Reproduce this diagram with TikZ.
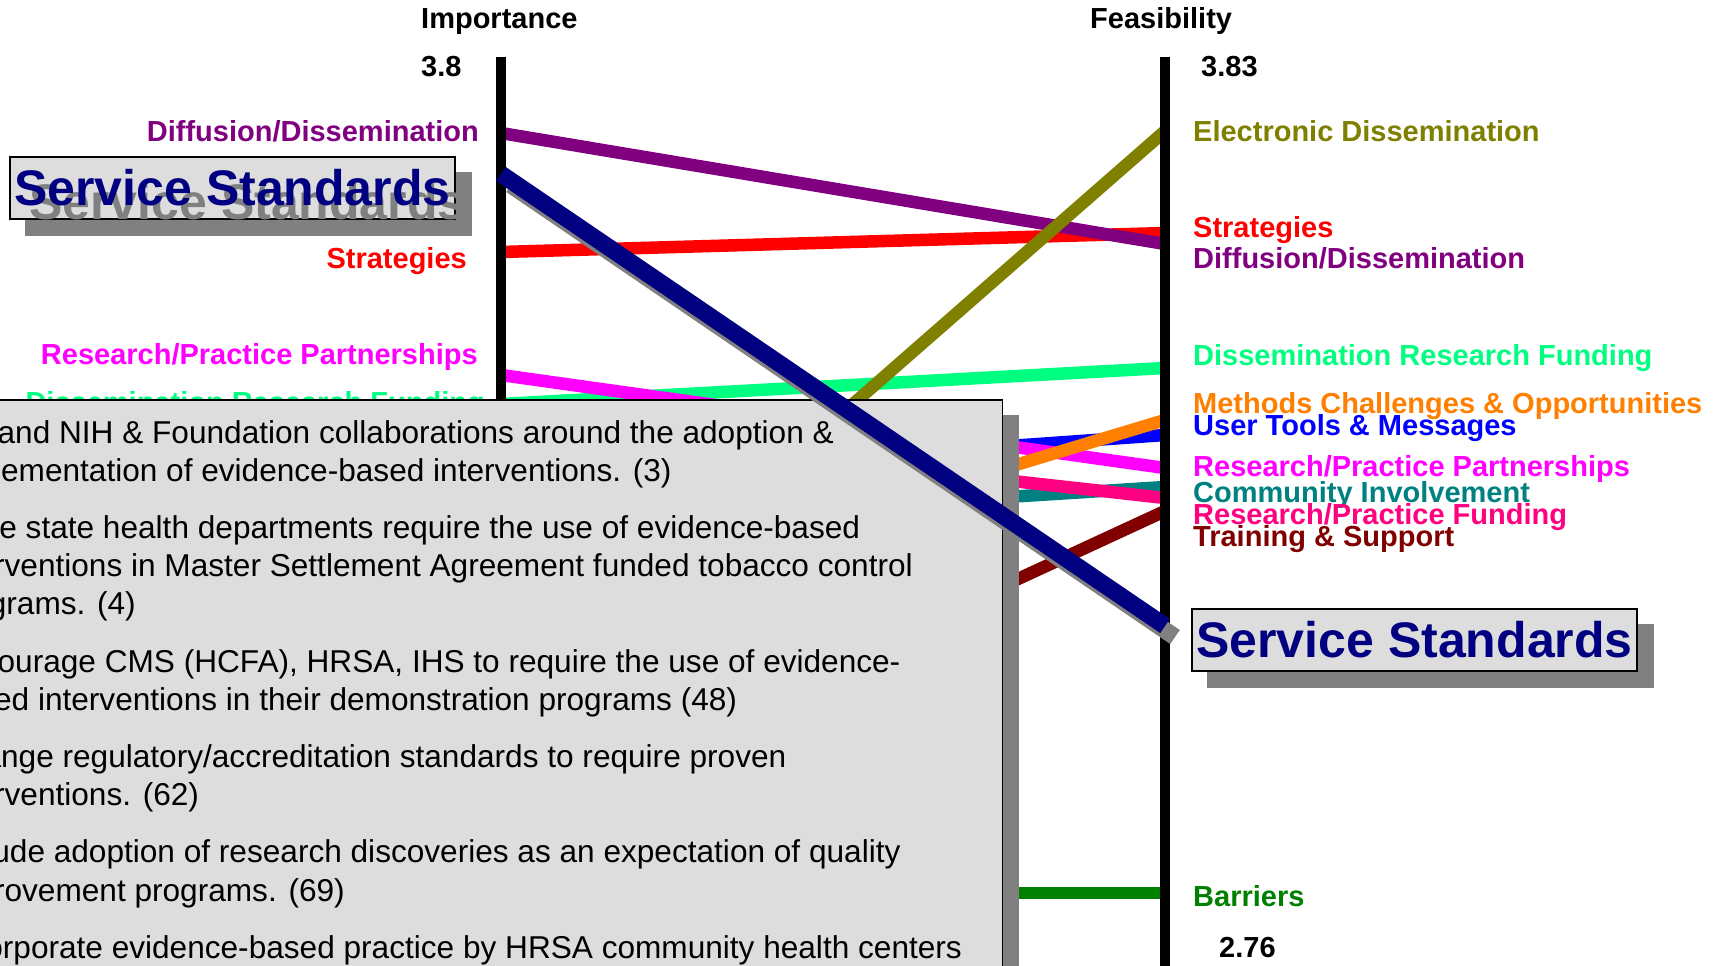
\documentclass[tikz,border=0pt]{standalone}
\usepackage{fontspec}
\setmainfont{Liberation Sans}
\usepackage{tikz}

\definecolor{diffpurple}{HTML}{800080}
\definecolor{stratred}{HTML}{FF0000}
\definecolor{rppmagenta}{HTML}{FF00FF}
\definecolor{drfgreen}{HTML}{00FF80}
\definecolor{elecolive}{HTML}{808000}
\definecolor{methorange}{HTML}{FF8000}
\definecolor{toolsblue}{HTML}{0000FF}
\definecolor{rpfpink}{HTML}{FF0080}
\definecolor{commteal}{HTML}{008080}
\definecolor{trainmaroon}{HTML}{800000}
\definecolor{barrgreen}{HTML}{008000}
\definecolor{servnavy}{HTML}{000080}
\definecolor{boxgray}{HTML}{DDDDDD}
\definecolor{shadowgray}{HTML}{808080}

\begin{document}
\begin{tikzpicture}[x=1pt, y=-1pt,
    lab/.style={font=\fontsize{29}{34}\selectfont\bfseries, inner sep=0pt},
    labl/.style={lab, anchor=base east},
    labr/.style={lab, anchor=base west},
    notetext/.style={font=\fontsize{31.6}{38}\selectfont, inner sep=0pt, anchor=base west},
    scaleline/.style={line width=10pt},
    trend/.style={line width=12.5pt},
    callout/.style={draw=black, line width=2pt, fill=boxgray, minimum width=445pt, minimum height=62pt, inner sep=0pt},
    calloutshadow/.style={fill=shadowgray, minimum width=447pt, minimum height=64pt, inner sep=0pt},
    callouttext/.style={font=\fontsize{50}{60}\selectfont\bfseries, text=servnavy, inner sep=0pt}]
    \useasboundingbox (0,0) rectangle (1713,966);
    \clip (0,0) rectangle (1713,966);

    \coordinate (imptop) at (501,57);
    \coordinate (impbot) at (501,980);
    \coordinate (featop) at (1165,57);
    \coordinate (feabot) at (1165,980);

    \coordinate (imp-diff) at (501,133);   \coordinate (fea-diff) at (1165,244);
    \coordinate (imp-strat) at (501,252);  \coordinate (fea-strat) at (1165,233);
    \coordinate (imp-rpp) at (501,375);    \coordinate (fea-rpp) at (1165,468);
    \coordinate (imp-drf) at (501,404);    \coordinate (fea-drf) at (1165,368);
    \coordinate (imp-elec) at (501,712);   \coordinate (fea-elec) at (1165,131);
    \coordinate (imp-meth) at (501,620);   \coordinate (fea-meth) at (1165,420);
    \coordinate (imp-tools) at (501,482);  \coordinate (fea-tools) at (1165,435);
    \coordinate (imp-rpf) at (501,424);    \coordinate (fea-rpf) at (1165,498);
    \coordinate (imp-comm) at (501,529);   \coordinate (fea-comm) at (1165,487);
    \coordinate (imp-train) at (501,818);  \coordinate (fea-train) at (1165,511);
    \coordinate (imp-barr) at (501,893);   \coordinate (fea-barr) at (1165,893);
    \coordinate (imp-serv) at (501,174);   \coordinate (fea-serv) at (1165,626);

    \draw[trend, stratred] (imp-strat) -- (fea-strat);
    \draw[trend, diffpurple] (imp-diff) -- (fea-diff);
    \draw[trend, drfgreen] (imp-drf) -- (fea-drf);
    \draw[trend, elecolive] (imp-elec) -- (fea-elec);
    \draw[trend, toolsblue] (imp-tools) -- (fea-tools);
    \draw[trend, rppmagenta] (imp-rpp) -- (fea-rpp);
    \draw[trend, methorange] (imp-meth) -- (fea-meth);
    \draw[trend, commteal] (imp-comm) -- (fea-comm);
    \draw[trend, rpfpink] (imp-rpf) -- (fea-rpf);
    \draw[trend, trainmaroon] (imp-train) -- (fea-train);
    \draw[trend, barrgreen] (imp-barr) -- (fea-barr);

    \draw[scaleline] (imptop) -- (impbot);
    \draw[scaleline] (featop) -- (feabot);

    \node (imptitle) [lab, anchor=base west] at (421,29) {Importance};
    \node (featitle) [lab, anchor=base west] at (1090,29) {Feasibility};
    \node (impmax) [lab, anchor=base west] at (421,77) {3.8};
    \node (feamax) [lab, anchor=base west] at (1201,77) {3.83};
    \node (feamin) [lab, anchor=base west] at (1219,957) {2.76};

    \node (impl-diff) [labl, text=diffpurple] at (479,141) {Diffusion/Dissemination};
    \node (impl-strat) [labl, text=stratred] at (467,268) {Strategies};
    \node (impl-rpp) [labl, text=rppmagenta] at (478,364) {Research/Practice Partnerships};
    \node (impl-drf) [labl, text=drfgreen] at (485,412) {Dissemination Research Funding};

    \node (feal-elec) [labr, text=elecolive] at (1193,141) {Electronic Dissemination};
    \node (feal-strat) [labr, text=stratred] at (1193,237) {Strategies};
    \node (feal-diff) [labr, text=diffpurple] at (1193,268) {Diffusion/Dissemination};
    \node (feal-drf) [labr, text=drfgreen] at (1193,365) {Dissemination Research Funding};
    \node (feal-meth) [labr, text=methorange] at (1193,413) {Methods Challenges \& Opportunities};
    \node (feal-tools) [labr, text=toolsblue] at (1193,435) {User Tools \& Messages};
    \node (feal-rpp) [labr, text=rppmagenta] at (1193,476) {Research/Practice Partnerships};
    \node (feal-comm) [labr, text=commteal] at (1193,502) {Community Involvement};
    \node (feal-rpf) [labr, text=rpfpink] at (1193,524) {Research/Practice Funding};
    \node (feal-train) [labr, text=trainmaroon] at (1193,546) {Training \& Support};
    \node (feal-barr) [labr, text=barrgreen] at (1193,906) {Barriers};

    \fill[shadowgray] (-40,415) rectangle (1019,990);
    \draw[line width=1.5pt, fill=boxgray] (-60,400) rectangle (1002.5,990);

    \node (note1a) [notetext] at (-57,443) {Expand NIH \& Foundation collaborations around the adoption \&};
    \node (note1b) [notetext] at (-57,481.2) {implementation of evidence-based interventions. (3)};
    \node (note2a) [notetext] at (-57,538.4) {Have state health departments require the use of evidence-based};
    \node (note2b) [notetext] at (-57,576.6) {interventions in Master Settlement Agreement funded tobacco control};
    \node (note2c) [notetext] at (-57,614.8) {programs. (4)};
    \node (note3a) [notetext] at (-57,672) {Encourage CMS (HCFA), HRSA, IHS to require the use of evidence-};
    \node (note3b) [notetext] at (-57,710.2) {based interventions in their demonstration programs (48)};
    \node (note4a) [notetext] at (-57,767.4) {Change regulatory/accreditation standards to require proven};
    \node (note4b) [notetext] at (-57,805.6) {interventions. (62)};
    \node (note5a) [notetext] at (-57,862.8) {Include adoption of research discoveries as an expectation of quality};
    \node (note5b) [notetext] at (-57,901) {improvement programs. (69)};
    \node (note6a) [notetext] at (-57,958.2) {Incorporate evidence-based practice by HRSA community health centers};

    \draw[line width=17pt, shadowgray] ([shift={(10,11)}]imp-serv) -- ([shift={(10,11)}]fea-serv);
    \draw[line width=17pt, servnavy] (imp-serv) -- (fea-serv);

    \node (leftshadow) [calloutshadow] at (248.5,204) {};
    \node (leftbox) [callout] at (232.5,188) {};
    \node (lefttextshadow) [callouttext, text=shadowgray, xshift=15pt, yshift=-14pt] at (leftbox) {Service Standards};
    \node (lefttext) [callouttext] at (leftbox) {Service Standards};

    \node (rightshadow) [calloutshadow] at (1430.5,656) {};
    \node (rightbox) [callout] at (1414.5,640) {};
    \node (righttext) [callouttext] at (rightbox) {Service Standards};
\end{tikzpicture}
\end{document}
